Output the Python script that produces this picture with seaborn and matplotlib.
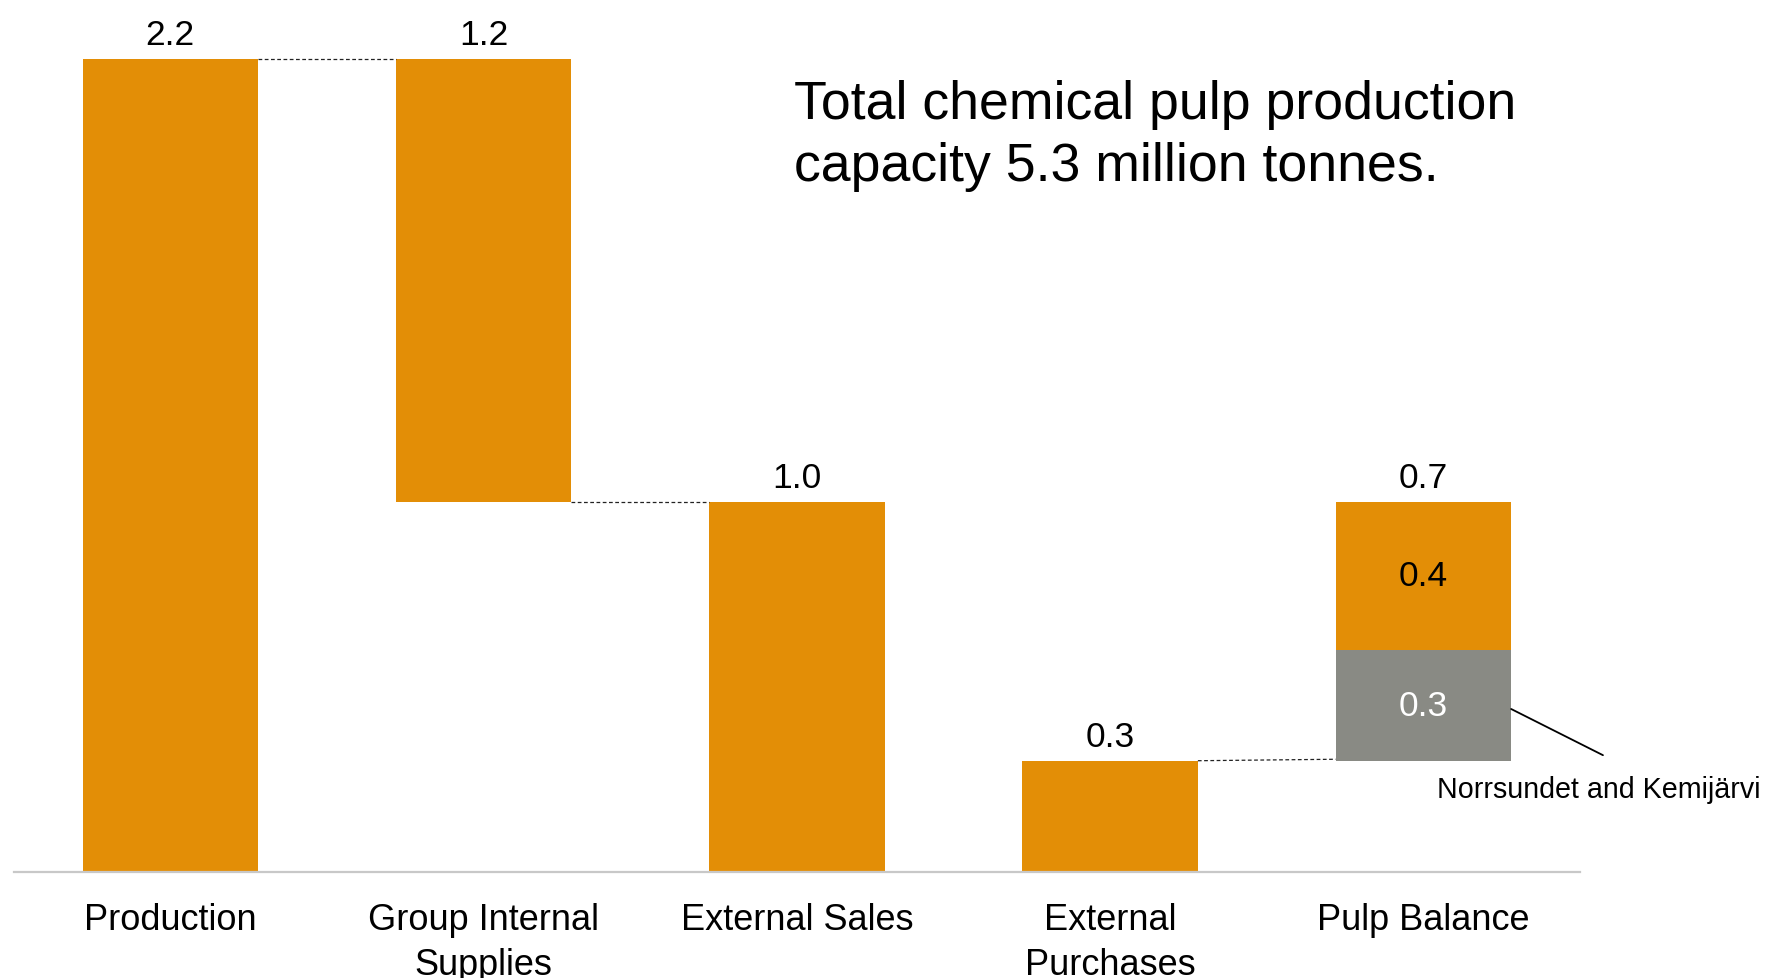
import matplotlib
matplotlib.use("Agg")
import matplotlib.pyplot as plt
import seaborn as sns
import pandas as pd

# Pulp balance waterfall, million tonnes
categories = ["Production", "Group Internal\nSupplies", "External Sales",
              "External\nPurchases", "Pulp Balance"]
amounts = [2.2, 1.2, 1.0, 0.3, 0.7]
closed_mills = 0.3          # Norrsundet and Kemijärvi share of the balance
remaining_balance = 0.4

ORANGE = "#E38E06"
GREY = "#898A84"

sns.set_theme(style="white")
plt.rcParams["font.family"] = ["Liberation Sans", "DejaVu Sans"]
plt.rcParams["text.color"] = "black"
plt.rcParams["xtick.color"] = "black"

# Floating-bar extents derived from the waterfall steps
prod, internal, ext_sales, ext_purch, balance = amounts
bottoms = [0.0, prod - internal, 0.0, 0.0, ext_purch]
tops = [prod, prod, ext_sales, ext_purch, ext_purch + balance]

df = pd.DataFrame({"category": categories, "top": tops})

fig = plt.figure(figsize=(17.71, 9.79), dpi=100)
ax = fig.add_axes([0.0077, 0.1087, 0.8845, 0.887])

width = 0.56
sns.barplot(data=df, x="category", y="top", order=categories, color=ORANGE,
            width=width, saturation=1, errorbar=None, ax=ax, linewidth=0)
main_bars = list(ax.patches)
for patch, b, t in zip(main_bars, bottoms, tops):
    patch.set_y(b)
    patch.set_height(t - b)

# Grey segment at the foot of the balance bar
grey_df = pd.DataFrame({"category": [categories[-1]],
                        "top": [ext_purch + closed_mills]})
sns.barplot(data=grey_df, x="category", y="top", order=categories, color=GREY,
            width=width, saturation=1, errorbar=None, ax=ax, linewidth=0)
grey_bar = ax.patches[-1]
grey_bar.set_y(ext_purch)
grey_bar.set_height(closed_mills)

ax.set_xlim(-0.5, 4.5)
ax.set_ylim(0, 2.35)

# Value labels above bars
for i, (b, t, v) in enumerate(zip(bottoms, tops, amounts)):
    ax.annotate(f"{v:.1f}", xy=(i, t), xytext=(0, 10.5), textcoords="offset points",
                ha="center", va="baseline", fontsize=25.5, color="black")

# Labels inside the balance bar
ax.text(4, ext_purch + closed_mills + remaining_balance / 2, f"{remaining_balance:.1f}",
        ha="center", va="center", fontsize=25.5, color="black")
ax.text(4, ext_purch + closed_mills / 2, f"{closed_mills:.1f}",
        ha="center", va="center", fontsize=25.5, color="white")

# Dashed connectors between steps
half = width / 2
conn = dict(color="#222222", linestyle=(0, (3, 2)), linewidth=0.9)
ax.plot([0 + half, 1 - half], [prod, prod], **conn)
ax.plot([1 + half, 2 - half], [prod - internal, prod - internal], **conn)
ax.plot([3 + half, 4 - half], [ext_purch, ext_purch + 0.004], **conn)

# Callout for the closed mills
ax.plot([4 + half, 4.573], [ext_purch + 0.14, 0.315], color="black",
        linewidth=1.3, clip_on=False)
ax.text(4.560, 0.224, "Norrsundet and Kemijärvi", ha="center", va="center",
        fontsize=20.6, color="black", clip_on=False)

# Axis styling
for side in ["top", "right", "left"]:
    ax.spines[side].set_visible(False)
ax.spines["bottom"].set_color("#C8C8C8")
ax.spines["bottom"].set_linewidth(1.6)
ax.set_yticks([])
ax.set_xlabel("")
ax.set_ylabel("")
ax.tick_params(axis="x", length=0, pad=22, labelsize=26, labelcolor="black")
for lbl in ax.get_xticklabels():
    lbl.set_linespacing(1.38)
    lbl.set_verticalalignment("top")

fig.text(0.4485, 0.918,
         "Total chemical pulp production\ncapacity 5.3 million tonnes.",
         ha="left", va="top", fontsize=38.6, color="black", linespacing=1.31)

fig.savefig("out.png", dpi=100, facecolor="white")
